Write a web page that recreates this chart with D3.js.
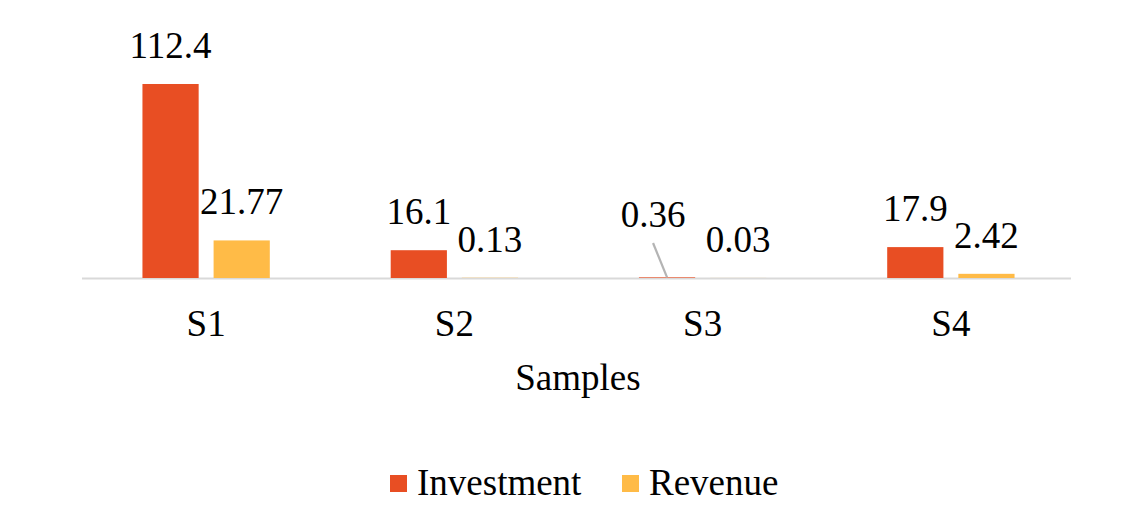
<!DOCTYPE html>
<html><head><meta charset="utf-8">
<script src="https://cdn.jsdelivr.net/npm/d3@7"></script>
<style>body{margin:0;background:#fff}svg{display:block}</style>
</head><body><svg id="c" width="1133" height="524"></svg>
<script>
const categories = ["S1","S2","S3","S4"];
const seriesNames = ["Investment","Revenue"];
const investment = [112.4, 16.1, 0.36, 17.9];
const revenue = [21.77, 0.13, 0.03, 2.42];
const labelsInv = ["112.4","16.1","0.36","17.9"];
const labelsRev = ["21.77","0.13","0.03","2.42"];
const colors = ["#E84E23","#FFBB47"];
const FONT = "'Liberation Serif', 'Times New Roman', 'DejaVu Serif', serif";
const FS = 37;

const svg = d3.select("#c").style("font-family", FONT);
const base = 278;
const x0 = d3.scaleBand().domain(categories).range([82, 1075]).paddingInner(0.487).paddingOuter(0.2435);
const x1 = d3.scaleBand().domain(seriesNames).range([0, x0.bandwidth()]).paddingInner(0.21).paddingOuter(0);
const y = d3.scaleLinear().domain([0, 120]).range([base, base - 120 * 1.726]);

const data = categories.map((c, i) => ({cat: c, vals: [
  {s: "Investment", v: investment[i], lab: labelsInv[i]},
  {s: "Revenue", v: revenue[i], lab: labelsRev[i]}
]}));

// axis line
svg.append("line").attr("x1", 82).attr("x2", 1071).attr("y1", base + 0.5).attr("y2", base + 0.5)
  .attr("stroke", "#d9d9d9").attr("stroke-width", 2);

const g = svg.selectAll("g.grp").data(data).join("g").attr("class","grp")
  .attr("transform", d => `translate(${x0(d.cat)},0)`);

g.selectAll("rect").data(d => d.vals).join("rect")
  .attr("x", d => x1(d.s)).attr("width", x1.bandwidth())
  .attr("y", d => y(d.v)).attr("height", d => base - y(d.v))
  .attr("fill", (d, i) => colors[i]);

g.each(function(d) {
  const gg = d3.select(this);
  d.vals.forEach((v, i) => {
    const cx = x1(v.s) + x1.bandwidth() / 2;
    let tx = cx, ty = y(v.v) - 26;
    if (d.cat === "S3" && v.s === "Investment") {
      tx = cx - 14; ty = 227;
      gg.append("line").attr("x1", cx - 14).attr("y1", 243).attr("x2", cx).attr("y2", y(v.v))
        .attr("stroke", "#b4b4b4").attr("stroke-width", 2.2);
    }
    gg.append("text").attr("x", tx).attr("y", ty).attr("text-anchor", "middle")
      .attr("font-family", FONT).style("font-size", FS + "px").attr("fill", "#000").text(v.lab);
  });
});

// category axis labels
const xAxis = d3.axisBottom(x0).tickSize(0).tickPadding(0);
const ax = svg.append("g").attr("transform", `translate(0,${base})`).call(xAxis)
  .attr("font-family", FONT).attr("font-size", FS);
ax.select(".domain").remove();
ax.selectAll("text").attr("dy", null).attr("y", 58).attr("fill", "#000");

svg.append("text").attr("x", 578).attr("y", 390).attr("text-anchor", "middle")
  .attr("font-family", FONT).style("font-size", FS + "px").text("Samples");

// legend
const legendX = [390, 622];
seriesNames.forEach((s, i) => {
  svg.append("rect").attr("x", legendX[i]).attr("y", 475).attr("width", 17).attr("height", 17).attr("fill", colors[i]);
  svg.append("text").attr("x", legendX[i] + 27).attr("y", 495).attr("font-family", FONT)
    .style("font-size", FS + "px").text(s);
});
</script></body></html>
